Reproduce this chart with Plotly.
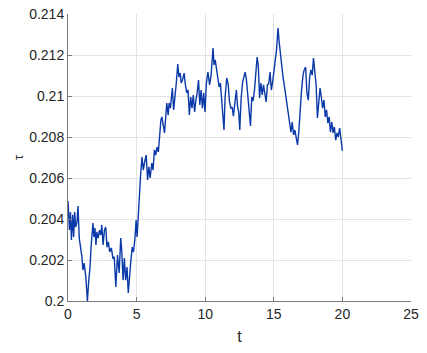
import plotly.graph_objects as go

t = [
    0, 0.107, 0.179, 0.25, 0.343, 0.414, 0.486, 0.557, 0.657, 0.729,
    0.821, 0.914, 1.014, 1.086, 1.179, 1.3, 1.414, 1.514, 1.607, 1.679,
    1.75, 1.821, 1.893, 1.964, 2.036, 2.107, 2.2, 2.3, 2.393, 2.464,
    2.557, 2.657, 2.75, 2.843, 2.943, 3.036, 3.157, 3.271, 3.371, 3.486,
    3.607, 3.729, 3.843, 3.914, 4.014, 4.107, 4.2, 4.3, 4.393, 4.486,
    4.586, 4.679, 4.771, 4.871, 4.964, 5.036, 5.107, 5.2, 5.3, 5.393,
    5.486, 5.586, 5.7, 5.8, 5.893, 5.986, 6.107, 6.2, 6.3, 6.393,
    6.486, 6.586, 6.7, 6.771, 6.843, 6.964, 7.036, 7.107, 7.2, 7.3,
    7.371, 7.464, 7.607, 7.7, 7.8, 7.893, 8.0, 8.086, 8.179, 8.25,
    8.343, 8.464, 8.557, 8.657, 8.75, 8.843, 8.943, 9.036, 9.129, 9.229,
    9.321, 9.414, 9.514, 9.607, 9.7, 9.8, 9.893, 9.986, 10.086, 10.2,
    10.321, 10.429, 10.571, 10.643, 10.729, 10.821, 10.929, 11.014, 11.107, 11.2,
    11.3, 11.371, 11.45, 11.571, 11.679, 11.771, 11.871, 11.964, 12.057, 12.157,
    12.271, 12.357, 12.443, 12.521, 12.621, 12.729, 12.821, 12.914, 13.0, 13.107,
    13.2, 13.3, 13.393, 13.486, 13.586, 13.693, 13.786, 13.871, 13.964, 14.057,
    14.157, 14.25, 14.343, 14.443, 14.536, 14.629, 14.729, 14.821, 14.914, 15.014,
    15.107, 15.2, 15.307, 15.393, 15.486, 15.586, 15.679, 15.771, 15.871, 15.964,
    16.057, 16.157, 16.25, 16.343, 16.443, 16.536, 16.629, 16.729, 16.821, 16.914,
    17.014, 17.129, 17.214, 17.321, 17.414, 17.514, 17.607, 17.7, 17.8, 17.893,
    17.986, 18.086, 18.179, 18.271, 18.371, 18.464, 18.557, 18.657, 18.75, 18.843,
    18.943, 19.036, 19.129, 19.229, 19.321, 19.414, 19.514, 19.607, 19.7, 19.8,
    19.893, 20.0,
]

tau = [
    0.20488, 0.20346, 0.20434, 0.20298, 0.20420, 0.20312, 0.20434, 0.20361, 0.20385, 0.20463,
    0.20307, 0.20263, 0.20215, 0.20151, 0.20185, 0.20117, 0.20000, 0.20102, 0.20166, 0.20263,
    0.20346, 0.20380, 0.20312, 0.20356, 0.20273, 0.20337, 0.20307, 0.20346, 0.20322, 0.20371,
    0.20273, 0.20346, 0.20361, 0.20263, 0.20288, 0.20239, 0.20259, 0.20210, 0.20215, 0.20068,
    0.20224, 0.20137, 0.20307, 0.20249, 0.20102, 0.20210, 0.20102, 0.20166, 0.20039, 0.20137,
    0.20200, 0.20263, 0.20239, 0.20298, 0.20395, 0.20312, 0.20410, 0.20507, 0.20624, 0.20702,
    0.20639, 0.20678, 0.20712, 0.20590, 0.20654, 0.20600, 0.20673, 0.20639, 0.20737, 0.20712,
    0.20751, 0.20727, 0.20834, 0.20883, 0.20898, 0.20844, 0.20820, 0.20883, 0.20966, 0.20907,
    0.20966, 0.20941, 0.21039, 0.20932, 0.20995, 0.21063, 0.21156, 0.21093, 0.21112, 0.21063,
    0.21078, 0.21112, 0.21054, 0.21015, 0.21029, 0.20907, 0.20995, 0.20941, 0.21005, 0.20922,
    0.20980, 0.21015, 0.21078, 0.20956, 0.21029, 0.20941, 0.21015, 0.20922, 0.21063, 0.21117,
    0.21054, 0.21102, 0.21234, 0.21151, 0.21176, 0.21127, 0.21078, 0.21044, 0.21063, 0.20980,
    0.20922, 0.20834, 0.20995, 0.21088, 0.21054, 0.20971, 0.20941, 0.20946, 0.20902, 0.20980,
    0.21029, 0.20951, 0.20922, 0.20834, 0.20990, 0.21068, 0.21098, 0.21117, 0.21083, 0.20995,
    0.20912, 0.20854, 0.20995, 0.20976, 0.21024, 0.21117, 0.21190, 0.21146, 0.20990, 0.21063,
    0.21005, 0.21054, 0.21020, 0.20971, 0.21054, 0.21059, 0.21117, 0.21029, 0.21068, 0.21137,
    0.21176, 0.21224, 0.21332, 0.21263, 0.21195, 0.21127, 0.21088, 0.21049, 0.21005, 0.20956,
    0.20907, 0.20863, 0.20824, 0.20873, 0.20810, 0.20834, 0.20795, 0.20761, 0.20824, 0.20932,
    0.21020, 0.21102, 0.21127, 0.21141, 0.21015, 0.20980, 0.21088, 0.21127, 0.21102, 0.21185,
    0.21117, 0.21054, 0.20893, 0.20956, 0.21039, 0.20995, 0.20941, 0.20980, 0.20898, 0.20932,
    0.20868, 0.20898, 0.20824, 0.20873, 0.20820, 0.20849, 0.20785, 0.20820, 0.20800, 0.20844,
    0.20776, 0.20732,
]

x_ticks = [0, 5, 10, 15, 20, 25]
y_ticks = [0.2, 0.202, 0.204, 0.206, 0.208, 0.21, 0.212, 0.214]
y_tick_labels = ["0.2", "0.202", "0.204", "0.206", "0.208", "0.21", "0.212", "0.214"]

fig = go.Figure()
fig.add_trace(go.Scatter(
    x=t, y=tau, mode="lines",
    line=dict(color="#0b3aa8", width=1.4),
    showlegend=False,
))

FONT = "Liberation Sans, Arial, sans-serif"
axis_font = dict(family=FONT, size=14, color="#262626")

# page body has an 8px default margin, so the figure is sized to fit the window
fig.update_layout(
    width=411, height=337,
    margin=dict(l=60, r=8, t=6, b=44),
    paper_bgcolor="white", plot_bgcolor="white",
    font=axis_font,
)
fig.update_xaxes(
    range=[0, 25], tickvals=x_ticks,
    showgrid=True, gridcolor="#e3e3e3", gridwidth=1,
    showline=True, linecolor="#7a7a7a", linewidth=1, mirror=False,
    ticks="inside", ticklen=4, tickcolor="#7a7a7a",
    zeroline=False, tickfont=axis_font, automargin=False,
    ticklabeloverflow="allow",
    title=dict(text="t", font=dict(family=FONT, size=16, color="#262626"), standoff=11),
)
fig.update_yaxes(
    range=[0.2, 0.214], tickvals=y_ticks, ticktext=y_tick_labels,
    showgrid=True, gridcolor="#e3e3e3", gridwidth=1,
    showline=True, linecolor="#7a7a7a", linewidth=1, mirror=False,
    ticks="inside", ticklen=4, tickcolor="#7a7a7a",
    zeroline=False, tickfont=axis_font, automargin=False,
    ticklabeloverflow="allow",
    title=dict(text="τ", font=dict(family=FONT, size=13, color="#262626"), standoff=2),
)

fig.write_html("out.html")
